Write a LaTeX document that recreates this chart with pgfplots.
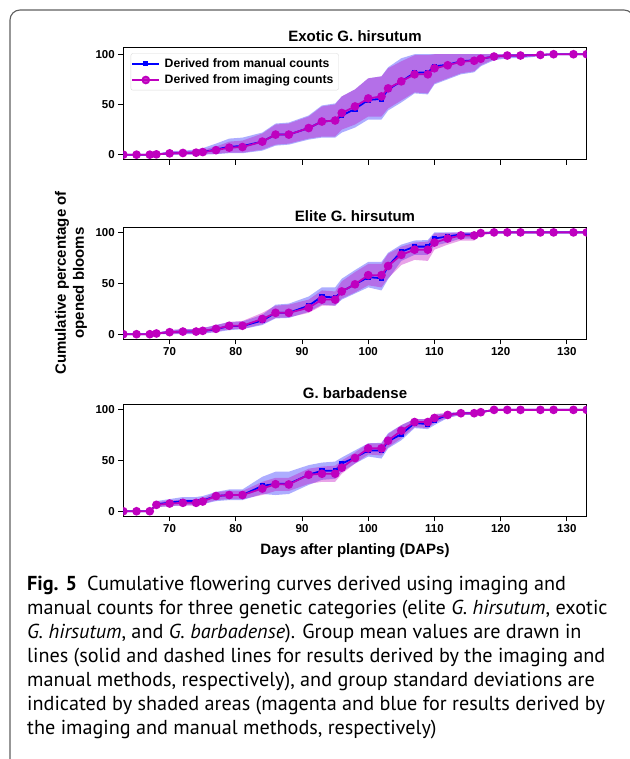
\documentclass[border=0pt]{standalone}
\usepackage{fontspec}
\setmainfont{Liberation Sans}
\newfontfamily\capfont{PT Sans}
\usepackage{pgfplots}
\pgfplotsset{compat=1.18}
\usepackage{pgfplotstable}
\usepgfplotslibrary{fillbetween}
\definecolor{mplm}{RGB}{191,0,191}
\definecolor{mplb}{RGB}{0,0,255}
\definecolor{framegray}{RGB}{95,95,95}

\pgfplotstableread{
d man mlo mhi img ilo ihi
63 0 0 0 0 0 0
65 0 0 0 0 0 0
67 0 0 0 0 0 0
68 0.3 0 1 0.3 0 0.8
70 1.3 0 3.5 1.3 0 3
72 1.7 0 4 1.7 0 3.5
74 2 0 5 2 0 4
75 2.8 0 6.5 2.6 0.5 5
77 5 0.5 11 4.5 1 8
79 8 1.5 16 7 2 13
81 8.5 1.5 17 7.6 2 14
84 13 4 22 13 5 21
86 20 9 31 20 10 30
88 20 10 32 20 11 31
91 26.5 15 39 26.5 16 38
93 33 17 49 33 18 48
95 34 17 51 34 18 50
96 39 22 58 41.5 25 58
98 45.5 27 65 48 30 65
100 54.5 35 76 56 38 76
102 55.5 35 78 58 38 78
103 65 44 87 66 46 86
105 73 52 96 73 54 93
107 81.5 61 100 80 62 99
109 82 60 100 80 61 99
110 88 70 100 86 71 100
112 89.5 75 100 89 76 100
114 93 80 100 92.5 81 100
116 94 82 100 93.5 83 100
117 95.5 88 100 95.5 89 100
119 97.7 94 100 97.7 95 100
121 98.7 96 100 98.7 97 100
123 98.7 96 100 98.7 97 100
126 99.3 98 100 99.3 98.5 100
128 100 100 100 100 100 100
131 100 100 100 100 100 100
133 100 100 100 100 100 100
}\exotic

\pgfplotstableread{
d man mlo mhi img ilo ihi
63 0 0 0 0 0 0
65 0 0 0 0 0 0
67 0 0 0 0 0 0
68 0.7 0 1.5 0.7 0 1.5
70 2 0 4 2 0 4
72 2.6 0 5 2.6 0.5 5
74 2.6 0 5 2.6 0.5 5
75 3 0.5 6 3.3 1 6
77 5 2 9 5.3 2.5 9
79 8 4 12 8.3 5 12
81 8 5 12.5 8.3 5 13
84 13.5 9 19 15 10 21
86 21 15.5 29 21 16 28
88 21 16 30 21 16.5 29
91 28 22 37 26 21 34
93 37 29 46 34 28 43
95 36 28 46 34 28 42
96 42 34 54.5 42 35 52
98 49 40 63 49 41 61
100 56 46 71 58 48 69
102 55 43 71 58 46 69
103 67 54 80 67 55 79
105 81 72 88 78 68 86
107 86 78 92 83 73 90
109 86 78 92.5 83 72 91
110 94 87 100 90 83 99
112 96 90 100 94 88 99.5
114 98 94 100 97 92 100
116 98 94 100 97 92 100
117 99.3 98 100 99.3 97 100
119 100 99.5 100 100 99 100
121 100 100 100 100 100 100
123 100 100 100 100 100 100
126 100 100 100 100 100 100
128 100 100 100 100 100 100
131 100 100 100 100 100 100
133 100 100 100 100 100 100
}\elite

\pgfplotstableread{
d man mlo mhi img ilo ihi
63 0 0 0 0 0 0
65 0 0 0 0 0 0
67 0 0 0 0 0 0
68 6.8 4 10 6.3 4 9
70 8.5 5 12 7.6 5 10.5
72 10 6 14 8.3 5.5 11.5
74 10 6 14 8.3 5.5 11.5
75 10.5 7 15 9.6 7 12.5
77 15 10 19 15 11 19
79 16 11 21.5 16 12 20
81 16 11 21.5 16 12 20
84 25 17 34 22.4 16 29
86 27 16 39 26.7 20 33
88 27 17 39 26.4 20 33
91 36 26 45.5 36 27 42
93 40 31 48 37 29 44
95 40 32 49 37 29 45
96 47 39 53 43 37 50
98 53 47 60 52.5 47 58
100 60 54 67 62 56 67
102 60 52 67.5 62 55 67
103 69 62 77 69.6 63 76
105 76 70 85 79.5 72 85
107 87 82 91 88 83 91
109 86 81 91 88 82 91
110 90 85 95 92 87 96
112 95 92 97 95 92.5 97
114 96.7 95 98 96.7 95 98
116 96.7 95 98 96.7 95 98
117 97.7 97 99 97.7 97 99
119 100 100 100 100 100 100
121 100 100 100 100 100 100
123 100 100 100 100 100 100
126 100 100 100 100 100 100
128 100 100 100 100 100 100
131 100 100 100 100 100 100
133 100 100 100 100 100 100
}\barb

\pgfplotsset{
  panel/.style={
    scale only axis, width=463.4pt, height=112pt,
    xmin=63, xmax=133,
    xtick={70,80,90,100,110,120,130}, ytick={0,50,100},
    tick align=outside, tick pos=left,
    major tick length=5pt,
    every tick/.style={black, line width=0.9pt},
    axis line style={line width=1.1pt},
    tick label style={font=\fontsize{11.5}{13}\selectfont\bfseries},
    /pgf/number format/assume math mode=true,
    title style={font=\fontsize{15}{18}\selectfont\bfseries, at={(0.5,1)}, anchor=base, yshift=0pt},
    clip marker paths=true,
  },
}

\newcommand\panelplots[2]{%
  \addplot[draw=none, name path=mlo#2, forget plot] table[x=d,y=mlo]{#1};
  \addplot[draw=none, name path=mhi#2, forget plot] table[x=d,y=mhi]{#1};
  \addplot[draw=none, name path=ilo#2, forget plot] table[x=d,y=ilo]{#1};
  \addplot[draw=none, name path=ihi#2, forget plot] table[x=d,y=ihi]{#1};
  \addplot[fill=mplb, fill opacity=0.32, draw=none, forget plot] fill between[of=mlo#2 and mhi#2];
  \addplot[fill=mplm, fill opacity=0.36, draw=none, forget plot] fill between[of=ilo#2 and ihi#2];
  \addplot[mplb, line width=1.8pt, mark=square*, mark size=1.7pt, mark options={solid}] table[x=d,y=man]{#1};
  \addplot[mplm, line width=1.8pt, mark=*, mark size=3.4pt, mark options={solid}] table[x=d,y=img]{#1};
}

\begin{document}
\begin{tikzpicture}
\path (0pt,0pt) rectangle (629pt,-759pt);
% frame
\draw[overlay, framegray, line width=1.1pt, rounded corners=10pt] (10pt,-775pt) -- (10pt,-10pt) -- (634pt,-10pt) -- (634pt,-40pt);

\begin{axis}[panel, at={(123.3pt,-47.7pt)}, anchor=north west,
  ymin=-5, ymax=106.5, xticklabels={},
  title={Exotic G. hirsutum},
  legend style={at={(7.4pt,-5.6pt)}, anchor=north west, at={(axis description cs:0,1)}, xshift=7.4pt, yshift=-5.6pt,
    font=\fontsize{12.2}{14}\selectfont\bfseries,
    draw=black!15, rounded corners=2pt, fill=white, fill opacity=0.8, text opacity=1,
    inner xsep=0.5pt, inner ysep=2pt, row sep=0pt,
    nodes={inner xsep=4.5pt, inner ysep=3pt}},
  legend cell align=left,
  legend image code/.code={\draw[mark repeat=2,mark phase=2] plot coordinates {(0pt,0pt) (13.5pt,0pt) (27pt,0pt)};},
]
\panelplots{\exotic}{a}
\legend{Derived from manual counts, Derived from imaging counts}
\end{axis}

\begin{axis}[panel, at={(123.3pt,-227.3pt)}, anchor=north west,
  ymin=-5, ymax=105, title={Elite G. hirsutum}]
\panelplots{\elite}{b}
\end{axis}

\begin{axis}[panel, at={(123.3pt,-404.3pt)}, anchor=north west,
  ymin=-5, ymax=105.5, title={G. barbadense},
  xlabel={Days after planting (DAPs)},
  xlabel style={font=\fontsize{15}{18}\selectfont\bfseries, yshift=-4pt}]
\panelplots{\barb}{c}
\end{axis}

\node[rotate=90, align=center, font=\fontsize{15}{18}\selectfont\bfseries] at (71pt,-283pt) {Cumulative percentage of\\opened blooms};

\begin{scope}[every node/.style={anchor=base west, inner sep=0pt, font=\capfont\fontsize{20.2}{24}\selectfont}]
\node at (27pt,-590pt) {\textbf{Fig. 5}\enspace Cumulative flowering curves derived using imaging and};
\node at (27pt,-614pt) {manual counts for three genetic categories (elite \textit{G. hirsutum}, exotic};
\node at (27pt,-638pt) {\textit{G. hirsutum}, and \textit{G. barbadense}). Group mean values are drawn in};
\node at (27pt,-662pt) {lines (solid and dashed lines for results derived by the imaging and};
\node at (27pt,-686pt) {manual methods, respectively), and group standard deviations are};
\node at (27pt,-710pt) {indicated by shaded areas (magenta and blue for results derived by};
\node at (27pt,-734pt) {the imaging and manual methods, respectively)};
\end{scope}
\end{tikzpicture}
\end{document}
